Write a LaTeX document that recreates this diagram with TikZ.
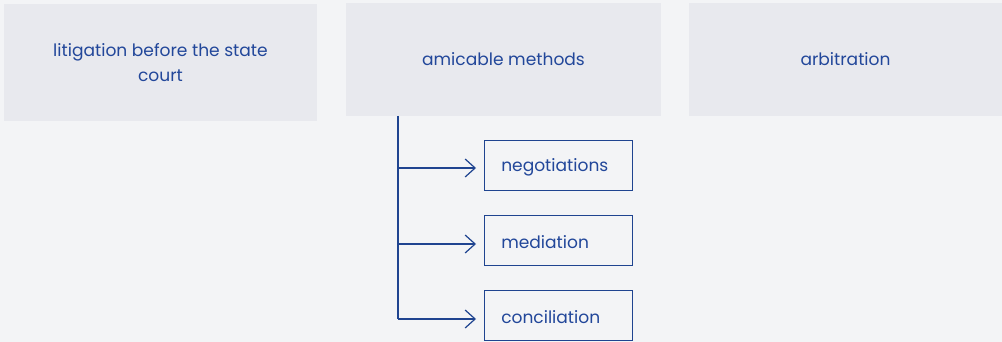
\documentclass[tikz,border=0pt]{standalone}
\usepackage{fontspec}
\setmainfont{Poppins}
\usetikzlibrary{arrows.meta}
\definecolor{pagebg}{HTML}{F3F4F6}
\definecolor{boxfill}{HTML}{E8E9EE}
\definecolor{ink}{HTML}{22479A}
\definecolor{wire}{HTML}{1F4490}
\tikzset{
  topbox/.style={text=ink, align=center, font=\fontsize{12.8}{19}\selectfont},
  subbox/.style={draw=wire, line width=1.1pt, fill=pagebg, anchor=north west, inner sep=0pt,
                 minimum width=111pt, minimum height=37.5pt},
  sublabel/.style={text=ink, anchor=west, inner sep=0pt, font=\fontsize{12.8}{15}\selectfont},
  link/.style={draw=wire, line width=0.9pt},
  linkarrow/.style={link, -{Straight Barb[length=7.5pt, width=13.5pt, line width=0.9pt]}}
}
\begin{document}
\begin{tikzpicture}[x=0.75pt, y=-0.75pt]
  \fill[pagebg] (0,0) rectangle (1002,342);
  \useasboundingbox (0,0) rectangle (1002,342);
  % top row of categories
  \fill[boxfill] (4,4) rectangle (317,121);
  \node[topbox] (court) at (160.5,62.5) {litigation before the state\\court};
  \fill[boxfill] (346,3) rectangle (661,116);
  \node[topbox] (amicable) at (503.5,59.5) {amicable methods};
  \fill[boxfill] (689,3) rectangle (1002,116);
  \node[topbox] (arbitration) at (845.5,59.5) {arbitration};
  % amicable sub-methods
  \node[subbox] (nego) at (484,140) {};
  \node[sublabel] at ([xshift=12.75pt,yshift=-1pt]nego.west) {negotiations};
  \node[subbox] (medi) at (484,215) {};
  \node[sublabel] at ([xshift=12.75pt,yshift=-1pt]medi.west) {mediation};
  \node[subbox] (conc) at (484,290) {};
  \node[sublabel] at ([xshift=12.75pt,yshift=-1pt]conc.west) {conciliation};
  % connectors: trunk under the middle box, branches to each sub-method
  \coordinate (trunk) at (398,116);
  \coordinate (b1) at (398,168);
  \coordinate (b2) at (398,244);
  \coordinate (b3) at (398,319);
  \coordinate (t1) at (476,168);
  \coordinate (t2) at (476,244);
  \coordinate (t3) at (476,319);
  \draw[link] (trunk) -- (b3);
  \draw[linkarrow] (b1) -- (t1);
  \draw[linkarrow] (b2) -- (t2);
  \draw[linkarrow] (b3) -- (t3);
\end{tikzpicture}
\end{document}
